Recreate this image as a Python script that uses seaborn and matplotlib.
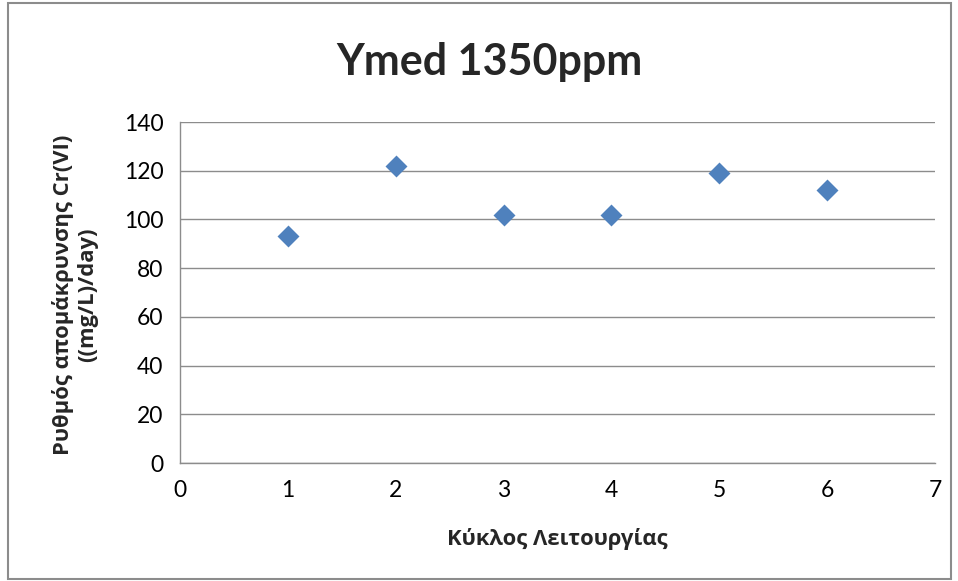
import matplotlib
matplotlib.use("Agg")
import matplotlib.pyplot as plt
import seaborn as sns
import pandas as pd
from matplotlib.patches import Rectangle

cycles = [1, 2, 3, 4, 5, 6]
rates = [93, 122, 102, 102, 119, 112]
title = "Ymed 1350ppm"
xlabel = "Κύκλος Λειτουργίας"
ylabel = "Ρυθμός απομάκρυνσης Cr(VI)\n((mg/L)/day)"

sns.set_theme(style="white")
plt.rcParams['font.family'] = ['Lato', 'DejaVu Sans']

df = pd.DataFrame({"cycle": cycles, "rate": rates})

fig = plt.figure(figsize=(9.58, 5.81), dpi=100)
L, R, T, B = 180, 935, 122, 463
ax = fig.add_axes([L/958, (581-B)/581, (R-L)/958, (B-T)/581])
sns.scatterplot(data=df, x="cycle", y="rate", marker="D", s=125, color="#4F81BD",
                edgecolor="#4F81BD", linewidth=0, ax=ax, zorder=3)

ax.set_xlim(0, 7)
ax.set_ylim(0, 140)
ax.set_xticks(range(0, 8))
ax.set_yticks(range(0, 141, 20))
ax.grid(axis="y", color="#8C8C8C", linewidth=1)
ax.set_axisbelow(True)
for s in ["top", "right"]:
    ax.spines[s].set_visible(False)
for s in ["left", "bottom"]:
    ax.spines[s].set_color("#8C8C8C")
    ax.spines[s].set_linewidth(1)
ax.tick_params(axis="both", direction="out", length=6, width=1, color="#8C8C8C",
               labelsize=16.5, labelcolor="#000000", pad=6)

lab_font = dict(family=["Open Sans", "DejaVu Sans"], fontsize=15.8, fontweight="bold")
ax.set_xlabel(xlabel, **lab_font)
ax.xaxis.set_label_coords((557-L)/(R-L), (B-539)/(B-T))
ax.xaxis.label.set_va("center")
ax.set_ylabel(ylabel, linespacing=1.15, **lab_font)
ax.yaxis.set_label_coords((75-L)/(R-L), (B-295)/(B-T))
ax.yaxis.label.set_va("center")

fig.suptitle(title, x=489/958, y=1-62/581, va="center", fontsize=31, fontweight="bold")

fig.patches.append(Rectangle((8/958, 2/581), (951-8)/958, (578-2)/581, transform=fig.transFigure,
                             fill=False, edgecolor="#8C8C8C", linewidth=1.5))

fig.savefig("out.png", dpi=100)
